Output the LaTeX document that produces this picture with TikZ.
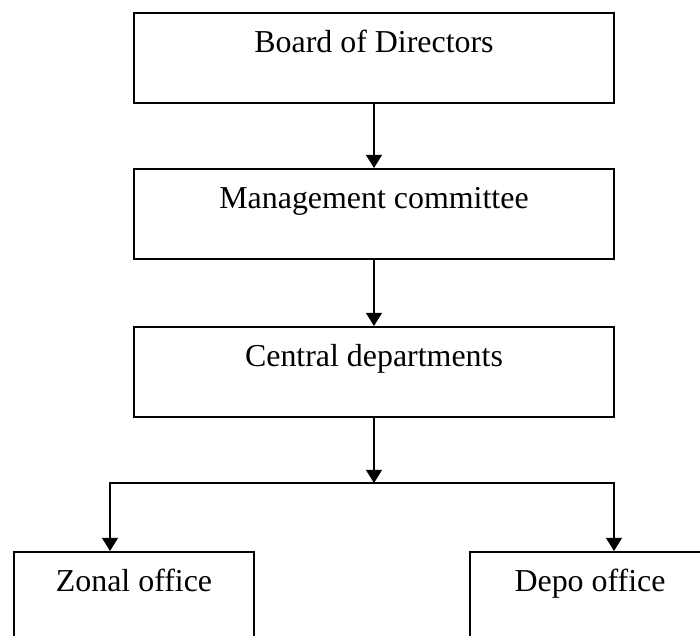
\documentclass[tikz,border=0pt]{standalone}
\usepackage{fontspec}
\setmainfont{Liberation Serif}
\usepackage{tikz}
\usetikzlibrary{arrows.meta, positioning}
\tikzset{%
  block/.style={rectangle, draw, line width=1.1pt, anchor=north, minimum width=12cm, inner xsep=0pt, inner ysep=0pt, text height=1cm, text depth=1.25cm, font=\fontsize{22.7}{27}\selectfont},
  smallblock/.style={block, minimum width=6cm},
  line/.style={draw, line width=1.1pt, -{Triangle[length=0.33cm, width=0.4cm]}}}
\begin{document}
\begin{tikzpicture}
    \useasboundingbox (0, 0) rectangle (17.5, -15.875);
    \clip (0, 0) rectangle (17.5, -15.875);

    \node [block] (board) at (9.35, -0.3) {Board of Directors};
    \node [block] (management) at (9.35, -4.2) {Management committee};
    \node [block] (central) at (9.35, -8.15) {Central departments};

    \path [line] (board) -- (management);
    \path [line] (management) -- (central);

    \node [smallblock] (zonal) at (3.35, -13.775) {Zonal office};
    \node [smallblock] (depo) at (14.75, -13.775) {Depo office};

    \coordinate (split) at (9.35, -12.075);
    \coordinate (zonalin) at (2.75, -13.775);
    \coordinate (depoin) at (15.35, -13.775);

    \path [line] (central) -- (split);
    \path [line] (split) -| (zonalin);
    \path [line] (split) -| (depoin);
  \end{tikzpicture}
\end{document}
